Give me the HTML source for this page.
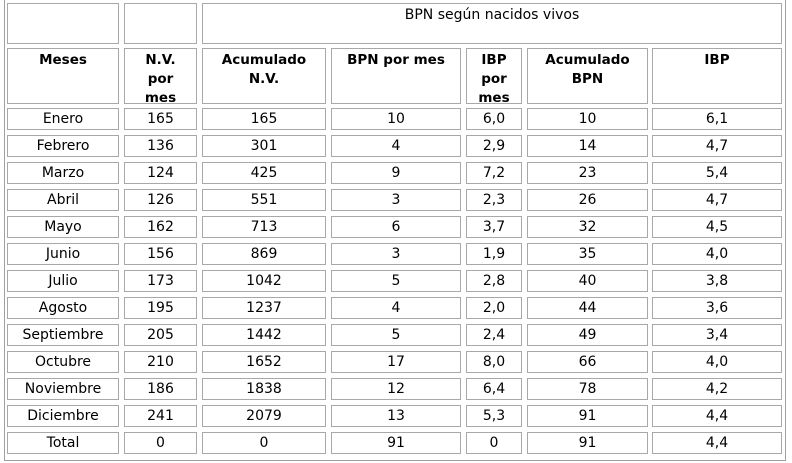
<!DOCTYPE html>
<html><head><meta charset="utf-8"><style>
body{margin:0;width:792px;height:463px;background:#fff;position:relative;overflow:hidden;font-family:"DejaVu Sans",Verdana,sans-serif;font-size:14px;color:#000}
.o{position:absolute;left:4px;top:0;width:782px;height:461px;border:1px solid #a0a0a0;border-top:none;box-sizing:border-box}
.c{position:absolute;border:1px solid #a8a8a8;box-sizing:border-box;text-align:center;line-height:21px}
.h{font-weight:bold;font-size:13.5px;line-height:19px;padding-top:2px}
.r{position:absolute;left:0;width:792px;height:22px}
.r .c{top:0;height:22px}
.a{left:7px;width:112px}.b{left:124px;width:73px}.d{left:202px;width:124px}.e{left:331px;width:130px}.f{left:466px;width:56px}.g{left:527px;width:121px}.k{left:652px;width:130px}
</style></head><body>
<div class="o"></div>
<div class="c a" style="top:3px;height:41px"></div>
<div class="c b" style="top:3px;height:41px"></div>
<div class="c" style="left:202px;width:580px;top:3px;height:41px;line-height:22px">BPN según nacidos vivos</div>
<div class="c h a" style="top:48px;height:56px">Meses</div>
<div class="c h b" style="top:48px;height:56px">N.V.<br>por<br>mes</div>
<div class="c h d" style="top:48px;height:56px">Acumulado<br>N.V.</div>
<div class="c h e" style="top:48px;height:56px">BPN por mes</div>
<div class="c h f" style="top:48px;height:56px">IBP<br>por<br>mes</div>
<div class="c h g" style="top:48px;height:56px">Acumulado<br>BPN</div>
<div class="c h k" style="top:48px;height:56px">IBP</div>
<div class="r" style="top:108px"><div class="c a">Enero</div><div class="c b">165</div><div class="c d">165</div><div class="c e">10</div><div class="c f">6,0</div><div class="c g">10</div><div class="c k">6,1</div></div>
<div class="r" style="top:135px"><div class="c a">Febrero</div><div class="c b">136</div><div class="c d">301</div><div class="c e">4</div><div class="c f">2,9</div><div class="c g">14</div><div class="c k">4,7</div></div>
<div class="r" style="top:162px"><div class="c a">Marzo</div><div class="c b">124</div><div class="c d">425</div><div class="c e">9</div><div class="c f">7,2</div><div class="c g">23</div><div class="c k">5,4</div></div>
<div class="r" style="top:189px"><div class="c a">Abril</div><div class="c b">126</div><div class="c d">551</div><div class="c e">3</div><div class="c f">2,3</div><div class="c g">26</div><div class="c k">4,7</div></div>
<div class="r" style="top:216px"><div class="c a">Mayo</div><div class="c b">162</div><div class="c d">713</div><div class="c e">6</div><div class="c f">3,7</div><div class="c g">32</div><div class="c k">4,5</div></div>
<div class="r" style="top:243px"><div class="c a">Junio</div><div class="c b">156</div><div class="c d">869</div><div class="c e">3</div><div class="c f">1,9</div><div class="c g">35</div><div class="c k">4,0</div></div>
<div class="r" style="top:270px"><div class="c a">Julio</div><div class="c b">173</div><div class="c d">1042</div><div class="c e">5</div><div class="c f">2,8</div><div class="c g">40</div><div class="c k">3,8</div></div>
<div class="r" style="top:297px"><div class="c a">Agosto</div><div class="c b">195</div><div class="c d">1237</div><div class="c e">4</div><div class="c f">2,0</div><div class="c g">44</div><div class="c k">3,6</div></div>
<div class="r" style="top:324px"><div class="c a">Septiembre</div><div class="c b">205</div><div class="c d">1442</div><div class="c e">5</div><div class="c f">2,4</div><div class="c g">49</div><div class="c k">3,4</div></div>
<div class="r" style="top:351px"><div class="c a">Octubre</div><div class="c b">210</div><div class="c d">1652</div><div class="c e">17</div><div class="c f">8,0</div><div class="c g">66</div><div class="c k">4,0</div></div>
<div class="r" style="top:378px"><div class="c a">Noviembre</div><div class="c b">186</div><div class="c d">1838</div><div class="c e">12</div><div class="c f">6,4</div><div class="c g">78</div><div class="c k">4,2</div></div>
<div class="r" style="top:405px"><div class="c a">Diciembre</div><div class="c b">241</div><div class="c d">2079</div><div class="c e">13</div><div class="c f">5,3</div><div class="c g">91</div><div class="c k">4,4</div></div>
<div class="r" style="top:432px"><div class="c a">Total</div><div class="c b">0</div><div class="c d">0</div><div class="c e">91</div><div class="c f">0</div><div class="c g">91</div><div class="c k">4,4</div></div>
</body></html>
